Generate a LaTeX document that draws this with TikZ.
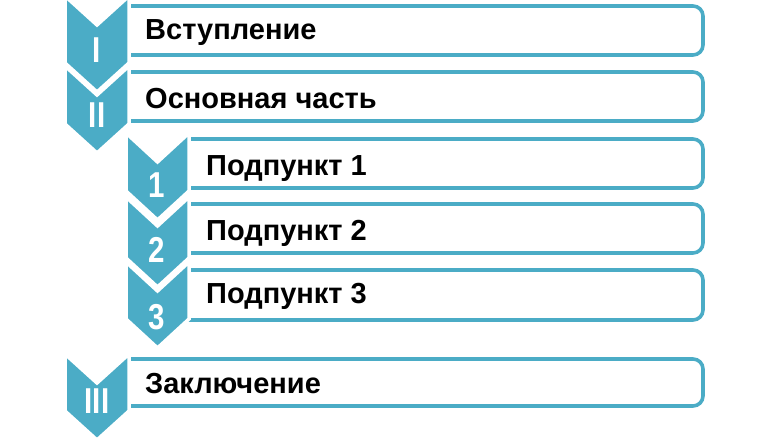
\documentclass[tikz,border=0pt]{standalone}
\usepackage{fontspec}
\setmainfont{Liberation Sans}
\definecolor{acc}{HTML}{4BACC6}
\begin{document}
\begin{tikzpicture}[x=1pt,y=-1pt,
  box/.style={draw=acc,line width=3.6pt,rounded corners=10pt},
  chev/.style={fill=acc,draw=white,line width=3.5pt,line join=miter},
  num/.style={text=white,font=\bfseries\fontsize{36}{36}\selectfont,inner sep=0pt,anchor=center,xscale=0.82},
  lbl/.style={text=black,font=\bfseries\fontsize{29}{30}\selectfont,inner sep=0pt,anchor=base west}]
\useasboundingbox (0,0) rectangle (770,444);
% chevron: #1 left x, #2 right x, #3 top y, #4 side bottom y, depth 29
\newcommand\mychev[4]{%
  \path[chev] (#1,#3) -- ({(#1+#2)/2},#3+29) -- (#2,#3) -- (#2,#4) -- ({(#1+#2)/2},#4+29) -- (#1,#4) -- cycle;}
% box: #1 left x, #2 top y, #3 bottom y
\newcommand\mybox[3]{%
  \path[box] (#1,#2) -- (703,#2) -- (703,#3) -- (#1,#3);}
\mybox{127}{6}{55}
\mybox{127}{72}{121}
\mybox{187}{139}{188}
\mybox{187}{204}{253}
\mybox{187}{270}{320}
\mybox{127}{359}{406}
% chevrons
\mychev{65}{129}{-4}{63}
\mychev{65}{129}{66}{124}
\mychev{126}{189}{133}{191}
\mychev{126}{189}{197}{258}
\mychev{126}{189}{262}{319}
\mychev{65}{129}{354}{411}
% numerals
\node[num] (n1) at (97,50) {I};
\node[num] (n2) at (97,115) {II};
\node[num] (s1) at (157,185) {1};
\node[num] (s2) at (157,250) {2};
\node[num] (s3) at (157,317) {3};
\node[num] (n3) at (97,401) {III};
% labels
\node[lbl] (t1) at (145,40) {Вступление};
\node[lbl] (t2) at (145,108) {Основная часть};
\node[lbl] (t3) at (206,175) {Подпункт 1};
\node[lbl] (t4) at (206,240) {Подпункт 2};
\node[lbl] (t5) at (206,303) {Подпункт 3};
\node[lbl] (t6) at (145,393) {Заключение};
\end{tikzpicture}
\end{document}
